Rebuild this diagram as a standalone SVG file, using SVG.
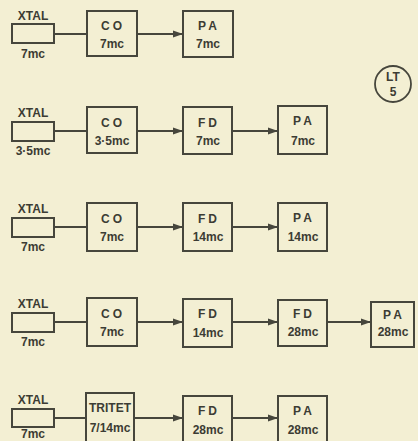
<svg xmlns="http://www.w3.org/2000/svg" width="418" height="441" viewBox="0 0 418 441">
<style>
.bg{fill:#f3efd3}
.box{fill:none;stroke:#46463c;stroke-width:2}
.xt{fill:none;stroke:#46463c;stroke-width:2}
.t{font-family:"Liberation Sans",Arial,sans-serif;font-weight:bold;font-size:12px;fill:#3c3c34;text-anchor:middle}
.sp{letter-spacing:3px}
.ln{stroke:#46463c;stroke-width:2;fill:none}
</style>
<defs>
<marker id="ah" viewBox="0 0 10 8" refX="10" refY="4" markerWidth="10" markerHeight="8" markerUnits="userSpaceOnUse" orient="auto">
<path d="M0,0.5 L10,4 L0,7.5 Z" fill="#46463c"/>
</marker>
</defs>
<rect class="bg" x="0" y="0" width="418" height="441"/>

<g id="connectors">
<line class="ln" x1="54" y1="34" x2="87" y2="34"/>
<line class="ln" x1="137" y1="34" x2="183" y2="34" marker-end="url(#ah)"/>
<line class="ln" x1="54" y1="131" x2="87" y2="131"/>
<line class="ln" x1="137" y1="131" x2="183" y2="131" marker-end="url(#ah)"/>
<line class="ln" x1="232" y1="131" x2="278" y2="131" marker-end="url(#ah)"/>
<line class="ln" x1="54" y1="227" x2="87" y2="227"/>
<line class="ln" x1="137" y1="227" x2="183" y2="227" marker-end="url(#ah)"/>
<line class="ln" x1="232" y1="227" x2="278" y2="227" marker-end="url(#ah)"/>
<line class="ln" x1="54" y1="322" x2="87" y2="322"/>
<line class="ln" x1="137" y1="322" x2="183" y2="322" marker-end="url(#ah)"/>
<line class="ln" x1="232" y1="322" x2="278" y2="322" marker-end="url(#ah)"/>
<line class="ln" x1="327" y1="322" x2="371" y2="322" marker-end="url(#ah)"/>
<line class="ln" x1="54" y1="418" x2="87" y2="418"/>
<line class="ln" x1="134" y1="418" x2="183" y2="418" marker-end="url(#ah)"/>
<line class="ln" x1="232" y1="418" x2="278" y2="418" marker-end="url(#ah)"/>
</g>

<!-- Row 1 -->
<g id="xtal1"><text class="t" x="33" y="20">XTAL</text><rect class="xt" x="12" y="24" width="42" height="19"/><text class="t" x="33" y="58">7mc</text></g>
<g id="co1"><rect class="box" x="87" y="11" width="50" height="45"/><text class="t sp" x="113" y="30">CO</text><text class="t" x="112" y="48">7mc</text></g>
<g id="pa1"><rect class="box" x="183" y="11" width="50" height="46"/><text class="t sp" x="209" y="30">PA</text><text class="t" x="208" y="48">7mc</text></g>

<g id="lt5"><circle cx="393" cy="84" r="18" fill="none" stroke="#46463c" stroke-width="1.8"/><text class="t" x="393" y="81" font-size="11">LT</text><text class="t" x="393" y="96" font-size="12">5</text></g>

<!-- Row 2 -->
<g id="xtal2"><text class="t" x="33" y="117">XTAL</text><rect class="xt" x="12" y="122" width="42" height="19"/><text class="t" x="33" y="155">3·5mc</text></g>
<g id="co2"><rect class="box" x="87" y="107" width="50" height="46"/><text class="t sp" x="113" y="127">CO</text><text class="t" x="112" y="145">3·5mc</text></g>
<g id="fd2"><rect class="box" x="183" y="107" width="49" height="47"/><text class="t sp" x="209" y="127">FD</text><text class="t" x="208" y="145">7mc</text></g>
<g id="pa2"><rect class="box" x="278" y="106" width="49" height="48"/><text class="t sp" x="304" y="125">PA</text><text class="t" x="303" y="145">7mc</text></g>

<!-- Row 3 -->
<g id="xtal3"><text class="t" x="33" y="213">XTAL</text><rect class="xt" x="12" y="218" width="42" height="19"/><text class="t" x="33" y="251">7mc</text></g>
<g id="co3"><rect class="box" x="87" y="203" width="50" height="48"/><text class="t sp" x="113" y="223">CO</text><text class="t" x="112" y="241">7mc</text></g>
<g id="fd3"><rect class="box" x="183" y="203" width="49" height="48"/><text class="t sp" x="209" y="223">FD</text><text class="t" x="208" y="241">14mc</text></g>
<g id="pa3"><rect class="box" x="278" y="203" width="49" height="48"/><text class="t sp" x="304" y="222">PA</text><text class="t" x="303" y="241">14mc</text></g>

<!-- Row 4 -->
<g id="xtal4"><text class="t" x="33" y="308">XTAL</text><rect class="xt" x="12" y="313" width="42" height="19"/><text class="t" x="33" y="346">7mc</text></g>
<g id="co4"><rect class="box" x="87" y="298" width="50" height="48"/><text class="t sp" x="113" y="318">CO</text><text class="t" x="112" y="336">7mc</text></g>
<g id="fd4"><rect class="box" x="183" y="299" width="49" height="48"/><text class="t sp" x="209" y="318">FD</text><text class="t" x="208" y="337">14mc</text></g>
<g id="fd4b"><rect class="box" x="278" y="300" width="49" height="46"/><text class="t sp" x="304" y="318">FD</text><text class="t" x="303" y="336">28mc</text></g>
<g id="pa4"><rect class="box" x="371" y="302" width="43" height="45"/><text class="t sp" x="394" y="319">PA</text><text class="t" x="393" y="336">28mc</text></g>

<!-- Row 5 -->
<g id="xtal5"><text class="t" x="33" y="404">XTAL</text><rect class="xt" x="12" y="409" width="42" height="18"/><text class="t" x="33" y="438" font-size="10">7mc</text></g>
<g id="tritet5"><rect class="box" x="86" y="393" width="48" height="51"/><text class="t" x="110" y="412" font-size="10">TRITET</text><text class="t" x="110" y="432">7/14mc</text></g>
<g id="fd5"><rect class="box" x="183" y="396" width="49" height="48"/><text class="t sp" x="209" y="415">FD</text><text class="t" x="208" y="434">28mc</text></g>
<g id="pa5"><rect class="box" x="278" y="396" width="49" height="48"/><text class="t sp" x="304" y="415">PA</text><text class="t" x="303" y="434">28mc</text></g>
</svg>
